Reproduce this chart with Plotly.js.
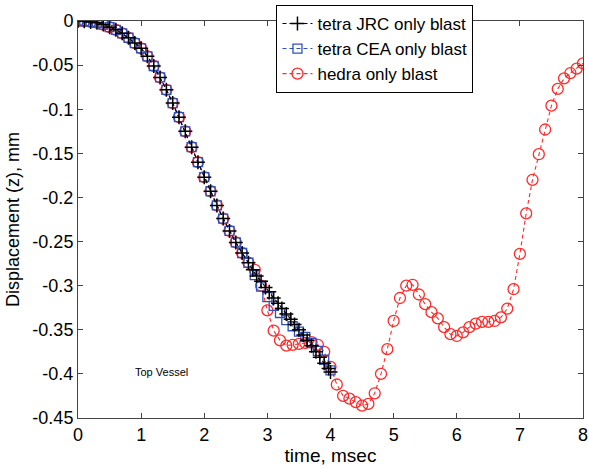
<!DOCTYPE html>
<html>
<head>
<meta charset="utf-8">
<script src="https://cdn.plot.ly/plotly-3.0.1.min.js"></script>
<style>html,body{margin:0;padding:0;background:#fff;}#chart{width:589px;height:468px;}</style>
</head>
<body>
<div id="chart"></div>
<script>
// time values (msec)
const tCommon = [0,0.1,0.2,0.3,0.4,0.5,0.6,0.7,0.8,0.9,1.0,1.1,1.2,1.3,1.4,1.5,1.6,1.7,1.8,1.9,2.0,2.1,2.2,2.3,2.4,2.5,2.6,2.7];
const dCommon = [0,-0.0003,-0.001,-0.002,-0.004,-0.007,-0.010,-0.014,-0.019,-0.025,-0.031,-0.040,-0.051,-0.064,-0.078,-0.093,-0.109,-0.125,-0.143,-0.160,-0.177,-0.193,-0.209,-0.224,-0.238,-0.251,-0.263,-0.274];

// tetra JRC only blast (finer steps after 2.7 msec)
const tJRC = tCommon.concat([2.77,2.83,2.9,2.97,3.03,3.1,3.17,3.23,3.3,3.37,3.43,3.5,3.57,3.63,3.7,3.77,3.83,3.9,3.97,4.0]);
const dJRC = dCommon.concat([-0.282,-0.289,-0.295,-0.302,-0.307,-0.314,-0.320,-0.326,-0.332,-0.338,-0.344,-0.350,-0.356,-0.362,-0.368,-0.375,-0.381,-0.388,-0.394,-0.398]);

// tetra CEA only blast
const tCEA = tCommon.concat([2.8,2.9,3.0,3.1,3.2,3.3,3.4,3.5,3.6,3.7,3.8,3.9,4.0]);
const dCEA = dCommon.concat([-0.288,-0.301,-0.313,-0.323,-0.331,-0.339,-0.346,-0.352,-0.358,-0.365,-0.374,-0.384,-0.396]);

// hedra only blast
const tHedra = tCommon.concat([2.8,2.9,3.0,3.1,3.2,3.3,3.4,3.5,3.6,3.7,3.8,3.9,4.0,4.1,4.2,4.3,4.4,4.5,4.6,4.7,4.8,4.9,5.0,5.1,5.2,5.3,5.4,5.5,5.6,5.7,5.8,5.9,6.0,6.1,6.2,6.3,6.4,6.5,6.6,6.7,6.8,6.9,7.0,7.1,7.2,7.3,7.4,7.5,7.6,7.7,7.8,7.9,8.0]);
const dHedra = dCommon.concat([-0.282,-0.300,-0.328,-0.351,-0.362,-0.368,-0.367,-0.366,-0.365,-0.364,-0.367,-0.375,-0.392,-0.412,-0.425,-0.428,-0.432,-0.436,-0.434,-0.422,-0.400,-0.372,-0.340,-0.314,-0.300,-0.299,-0.310,-0.321,-0.330,-0.337,-0.347,-0.355,-0.357,-0.353,-0.347,-0.343,-0.341,-0.341,-0.340,-0.336,-0.326,-0.304,-0.264,-0.218,-0.180,-0.151,-0.123,-0.096,-0.077,-0.065,-0.059,-0.054,-0.048]);

const xTicks = [0,1,2,3,4,5,6,7,8];
const yTicks = [0,-0.05,-0.1,-0.15,-0.2,-0.25,-0.3,-0.35,-0.4,-0.45];
const yTickText = ['0','-0.05','-0.1','-0.15','-0.2','-0.25','-0.3','-0.35','-0.4','-0.45'];

const FONT = 'Liberation Sans, Arial, sans-serif';

const traces = [
  {x: tHedra, y: dHedra, name: 'hedra only blast', mode: 'lines+markers', legendrank: 3,
   line: {color: '#ff2a2a', width: 1.1, dash: '4px,3px'},
   marker: {symbol: 'circle-open', size: 11, color: '#ff2a2a', line: {color: '#ff2a2a', width: 1.3}}},
  {x: tCEA, y: dCEA, name: 'tetra CEA only blast', mode: 'lines+markers', legendrank: 2,
   line: {color: '#3050c0', width: 1.1, dash: '4px,3px'},
   marker: {symbol: 'square-open', size: 9, color: '#3050c0', line: {color: '#3050c0', width: 1.3}}},
  {x: tJRC, y: dJRC, name: 'tetra JRC only blast', mode: 'lines+markers', legendrank: 1,
   line: {color: '#000000', width: 1.1, dash: '4px,3px'},
   marker: {symbol: 'cross-thin-open', size: 10, color: '#000000', line: {color: '#000000', width: 1.5}}}
];

const layout = {
  width: 589, height: 468,
  margin: {l: 78, r: 6, t: 20, b: 50},
  paper_bgcolor: '#ffffff', plot_bgcolor: '#ffffff',
  font: {family: FONT, size: 17, color: '#000'},
  showlegend: true,
  legend: {x: 0.393, y: 1.038, xanchor: 'left', yanchor: 'top', bgcolor: '#ffffff',
           bordercolor: '#000', borderwidth: 1, font: {family: FONT, size: 17, color: '#000'},
           tracegroupgap: 0, itemwidth: 30},
  xaxis: {range: [0, 8], tickvals: xTicks, ticks: 'inside', ticklen: 5, tickcolor: '#444',
          showgrid: false, zeroline: false, showline: true, linecolor: '#444', linewidth: 1,
          mirror: 'ticks', tickfont: {family: FONT, size: 18}, ticklabeloverflow: 'allow',
          title: {text: 'time, msec', font: {family: FONT, size: 19}, standoff: 4}},
  yaxis: {range: [-0.45, 0], tickvals: yTicks, ticktext: yTickText, ticks: 'inside', ticklen: 5,
          tickcolor: '#444', showgrid: false, zeroline: false, showline: true, linecolor: '#444',
          linewidth: 1, mirror: 'ticks', tickfont: {family: FONT, size: 18},
          title: {text: 'Displacement (z), mm', font: {family: FONT, size: 18}, standoff: 8}},
  annotations: [{x: 0.87, y: -0.398, xref: 'x', yref: 'y', xanchor: 'left', yanchor: 'middle',
                 text: 'Top Vessel', showarrow: false, font: {family: FONT, size: 11, color: '#000'}}]
};

Plotly.newPlot('chart', traces, layout, {staticPlot: true, displayModeBar: false});
</script>
</body>
</html>
